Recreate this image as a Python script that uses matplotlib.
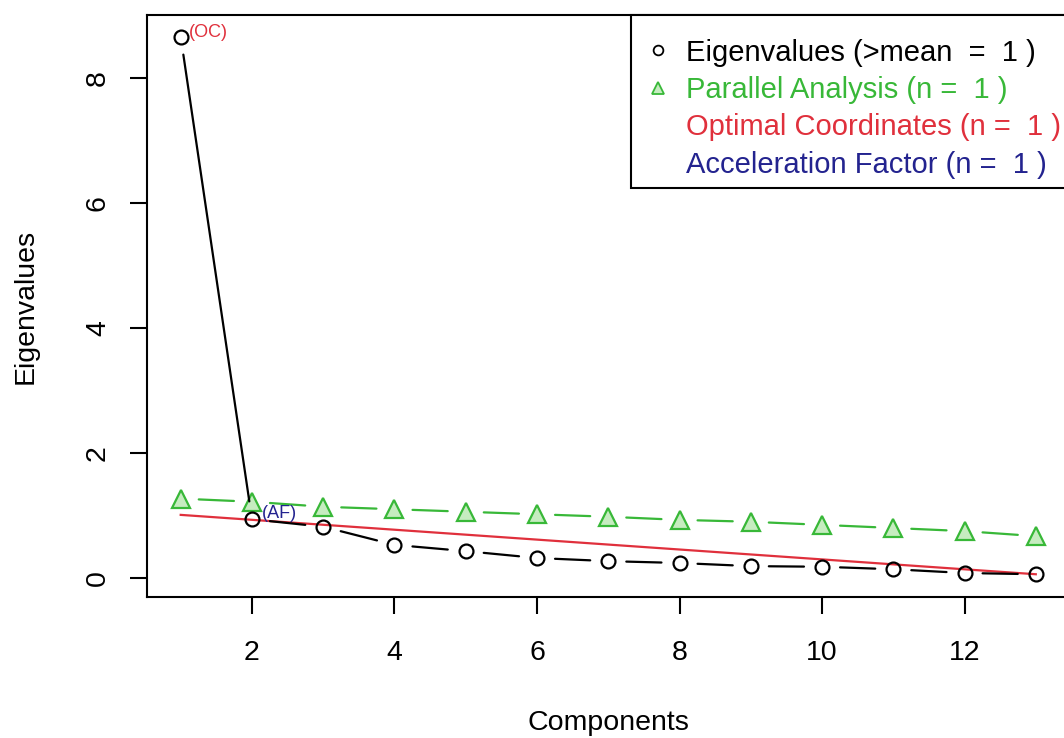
import numpy as np
import matplotlib.pyplot as plt
from matplotlib.lines import Line2D

plt.rcParams.update({
    "font.family": ["Liberation Sans", "DejaVu Sans"],
    "font.size": 20.5,
})

components = np.arange(1, 14)
eigenvalues = [8.66, 0.94, 0.82, 0.53, 0.43, 0.32, 0.27, 0.24, 0.19, 0.18, 0.14, 0.08, 0.06]
parallel = [1.27, 1.22, 1.14, 1.10, 1.06, 1.02, 0.98, 0.93, 0.90, 0.85, 0.80, 0.75, 0.67]
oc_x = [1, 13]
oc_y = [1.01, 0.06]

legend_labels = ["Eigenvalues (>mean  =  1 )",
                 "Parallel Analysis (n =  1 )",
                 "Optimal Coordinates (n =  1 )",
                 "Acceleration Factor (n =  1 )"]

GREEN = "#38b838"
GREEN_FILL = "#c6ecc0"
RED = "#e0303c"
BLUE = "#23238f"

fig = plt.figure(figsize=(10.64, 7.38), dpi=100)
# the reference is cut off on the right, the box runs past the image edge
ax = fig.add_axes([147/1064, 141/738, 923/1064, 582/738])


def type_b(x, y, color, marker, ms, mfc):
    # R style type="b": segments with gaps around the points
    for i in range(len(x) - 1):
        ax.annotate("", xy=(x[i+1], y[i+1]), xytext=(x[i], y[i]),
                    arrowprops=dict(arrowstyle="-", color=color, lw=1.6,
                                    shrinkA=13, shrinkB=13))
    ax.plot(x, y, linestyle="none", marker=marker, ms=ms, mfc=mfc,
            mec=color, mew=1.6)


ax.plot(oc_x, oc_y, color=RED, lw=1.6)
type_b(components, parallel, GREEN, "^", 13, GREEN_FILL)
type_b(components, eigenvalues, "black", "o", 10, "none")

ax.annotate("(OC)", xy=(components[0], eigenvalues[0]), xytext=(6, 3),
            textcoords="offset points", ha="left", va="center",
            color=RED, fontsize=13)
ax.annotate("(AF)", xy=(components[1], eigenvalues[1]), xytext=(7, 4),
            textcoords="offset points", ha="left", va="center",
            color=BLUE, fontsize=13)

ax.set_xlim(0.527, 13.48)
ax.set_ylim(-0.304, 9.008)
ax.set_xticks([2, 4, 6, 8, 10, 12])
ax.set_yticks([0, 2, 4, 6, 8])
for lab in ax.get_yticklabels():
    lab.set_rotation(90)
    lab.set_va("center")
ax.tick_params(direction="out", length=12, width=1.5, pad=14)
ax.tick_params(axis="x", pad=19)
for sp in ax.spines.values():
    sp.set_linewidth(1.5)

ax.set_xlabel("Components", labelpad=32)
ax.set_ylabel("Eigenvalues", labelpad=33)

handles = [
    Line2D([], [], linestyle="none", marker="o", ms=7, mfc="none", mec="black", mew=1.3),
    Line2D([], [], linestyle="none", marker="^", ms=8, mfc=GREEN_FILL, mec=GREEN, mew=1.3),
    Line2D([], [], linestyle="none"),
    Line2D([], [], linestyle="none"),
]
# blank tiny title only pushes the rows down a little, like R's legend box
leg = ax.legend(handles, legend_labels, loc="upper right", borderaxespad=0,
                fancybox=False, framealpha=1, edgecolor="black", fontsize=21,
                labelcolor=["black", GREEN, RED, BLUE], handlelength=1.24,
                handletextpad=0.34, labelspacing=0.325, borderpad=0.31,
                title=" ", title_fontsize=4)
leg.get_frame().set_linewidth(1.5)

fig.savefig("out.png", dpi=100)
